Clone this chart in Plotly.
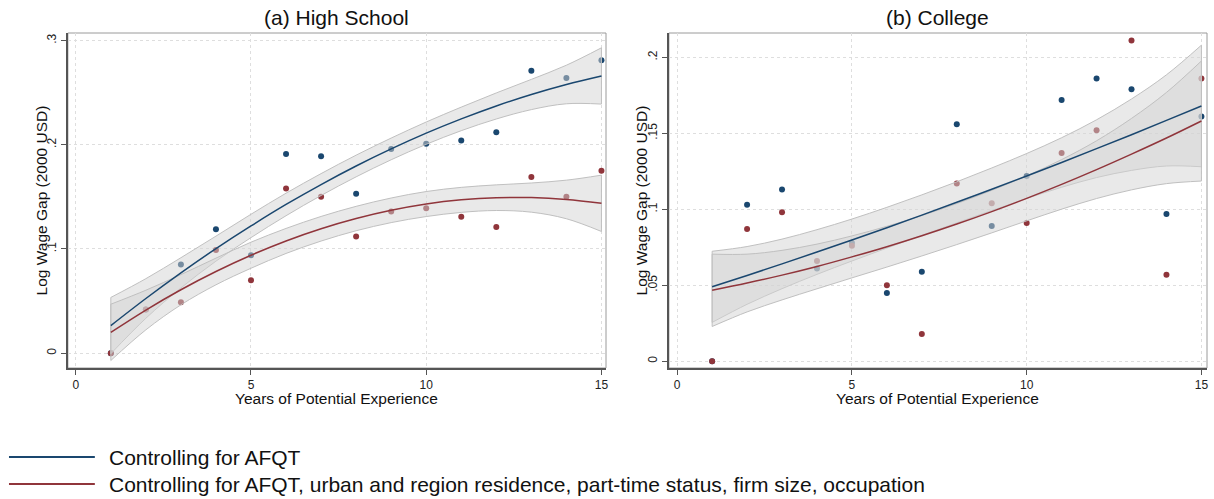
import plotly.graph_objects as go

# Years of potential experience
years = list(range(1, 16))

# (a) High school: log wage gap by experience
hs_afqt = [0.0, 0.042, 0.085, 0.119, 0.094, 0.191, 0.189, 0.153, 0.196, 0.201,
           0.204, 0.212, 0.271, 0.264, 0.281]
hs_full = [0.0, 0.042, 0.049, 0.099, 0.070, 0.158, 0.150, 0.112, 0.136, 0.139,
           0.131, 0.121, 0.169, 0.150, 0.175]

# quadratic fits with 95% confidence bands, high school
hs_afqt_fit = [0.0265, 0.0525, 0.0771, 0.1003, 0.1221, 0.1427, 0.1618, 0.1796,
               0.1960, 0.2111, 0.2248, 0.2372, 0.2482, 0.2578, 0.2660]
hs_afqt_lo = [-0.0005, 0.0335, 0.0626, 0.0883, 0.1109, 0.1319, 0.1513, 0.1692,
              0.1856, 0.2004, 0.2135, 0.2247, 0.2337, 0.2393, 0.2390]
hs_afqt_hi = [0.0535, 0.0715, 0.0916, 0.1123, 0.1333, 0.1535, 0.1723, 0.1900,
              0.2064, 0.2218, 0.2361, 0.2497, 0.2627, 0.2763, 0.2930]
hs_full_fit = [0.0200, 0.0414, 0.0609, 0.0784, 0.0940, 0.1077, 0.1194, 0.1292,
               0.1371, 0.1431, 0.1471, 0.1492, 0.1493, 0.1475, 0.1438]
hs_full_lo = [-0.0070, 0.0224, 0.0464, 0.0656, 0.0815, 0.0957, 0.1076, 0.1175,
              0.1253, 0.1311, 0.1351, 0.1369, 0.1353, 0.1290, 0.1168]
hs_full_hi = [0.0470, 0.0604, 0.0754, 0.0912, 0.1065, 0.1197, 0.1312, 0.1409,
              0.1489, 0.1551, 0.1591, 0.1615, 0.1633, 0.1660, 0.1708]

# (b) College: log wage gap by experience
col_afqt = [0.0, 0.103, 0.113, 0.061, 0.078, 0.045, 0.059, 0.156, 0.089, 0.122,
            0.172, 0.186, 0.179, 0.097, 0.161]
col_full = [0.0, 0.087, 0.098, 0.066, 0.076, 0.050, 0.018, 0.117, 0.104, 0.091,
            0.137, 0.152, 0.211, 0.057, 0.186]

# quadratic fits with 95% confidence bands, college
col_afqt_fit = [0.0490, 0.0565, 0.0641, 0.0719, 0.0798, 0.0879, 0.0962, 0.1046,
                0.1132, 0.1219, 0.1308, 0.1399, 0.1491, 0.1585, 0.1680]
col_afqt_lo = [0.0256, 0.0375, 0.0478, 0.0572, 0.0660, 0.0745, 0.0829, 0.0911,
               0.0992, 0.1071, 0.1145, 0.1209, 0.1256, 0.1285, 0.1280]
col_afqt_hi = [0.0724, 0.0755, 0.0804, 0.0866, 0.0936, 0.1013, 0.1095, 0.1181,
               0.1272, 0.1367, 0.1471, 0.1589, 0.1726, 0.1885, 0.2080]
col_full_fit = [0.0467, 0.0515, 0.0567, 0.0624, 0.0687, 0.0754, 0.0826, 0.0903,
                0.0985, 0.1072, 0.1164, 0.1261, 0.1363, 0.1469, 0.1581]
col_full_lo = [0.0229, 0.0325, 0.0404, 0.0477, 0.0549, 0.0620, 0.0693, 0.0768,
               0.0845, 0.0924, 0.1001, 0.1071, 0.1128, 0.1169, 0.1186]
col_full_hi = [0.0705, 0.0705, 0.0730, 0.0771, 0.0825, 0.0888, 0.0959, 0.1038,
               0.1125, 0.1220, 0.1327, 0.1451, 0.1598, 0.1769, 0.1976]

hs_ticks = [0, 0.1, 0.2, 0.3]
hs_ticklabels = ["0", ".1", ".2", ".3"]
col_ticks = [0, 0.05, 0.1, 0.15, 0.2]
col_ticklabels = ["0", ".05", ".1", ".15", ".2"]
x_ticks = [0, 5, 10, 15]

panel_titles = ["(a) High School", "(b) College"]
x_title = "Years of Potential Experience"
y_title = "Log Wage Gap (2000 USD)"
legend_labels = [
    "Controlling for AFQT",
    "Controlling for AFQT, urban and region residence, part-time status, firm size, occupation",
]

NAVY = "#1a476f"
MAROON = "#90353b"
BAND_FILL = "rgba(212,212,212,0.5)"
BAND_EDGE = "rgba(192,192,192,1)"
FONT = "Liberation Sans, Arial, sans-serif"

fig = go.Figure()

panels = [
    ("x", "y", [(hs_afqt, hs_afqt_fit, hs_afqt_lo, hs_afqt_hi, NAVY),
                (hs_full, hs_full_fit, hs_full_lo, hs_full_hi, MAROON)]),
    ("x2", "y2", [(col_afqt, col_afqt_fit, col_afqt_lo, col_afqt_hi, NAVY),
                  (col_full, col_full_fit, col_full_lo, col_full_hi, MAROON)]),
]

for xa, ya, series in panels:
    # scatter points first so the translucent bands sit on top of them
    for pts, _, _, _, col in series:
        fig.add_trace(go.Scatter(
            x=years, y=pts, mode="markers", xaxis=xa, yaxis=ya,
            marker=dict(color=col, size=6), showlegend=False, hoverinfo="skip"))
    # confidence bands
    for _, _, lo, hi, _ in series:
        fig.add_trace(go.Scatter(
            x=years, y=lo, mode="lines", line=dict(color=BAND_EDGE, width=1, shape="spline"),
            xaxis=xa, yaxis=ya, showlegend=False, hoverinfo="skip"))
        fig.add_trace(go.Scatter(
            x=years, y=hi, mode="lines", line=dict(color=BAND_EDGE, width=1, shape="spline"),
            fill="tonexty", fillcolor=BAND_FILL,
            xaxis=xa, yaxis=ya, showlegend=False, hoverinfo="skip"))
        # closing edges of the band at both ends
        for i in (0, -1):
            fig.add_trace(go.Scatter(
                x=[years[i], years[i]], y=[lo[i], hi[i]], mode="lines",
                line=dict(color=BAND_EDGE, width=1), xaxis=xa, yaxis=ya,
                showlegend=False, hoverinfo="skip"))
    # fitted lines
    for _, fit, _, _, col in series:
        fig.add_trace(go.Scatter(
            x=years, y=fit, mode="lines", xaxis=xa, yaxis=ya,
            line=dict(color=col, width=1.5, shape="spline"),
            showlegend=False, hoverinfo="skip"))

axis_common = dict(
    showgrid=True, gridcolor="#dedede", griddash="dot", gridwidth=1,
    zeroline=False, showline=True, linecolor="#555555", linewidth=1.5,
    ticks="outside", ticklen=5, tickcolor="#555555",
    tickfont=dict(family=FONT, size=12, color="#222222"),
)

XD1 = [68 / 1214, 607 / 1214]
XD2 = [670 / 1214, 1209 / 1214]
YD = [1 - 368 / 499, 1 - 33 / 499]

fig.update_layout(
    width=1214, height=499,
    margin=dict(l=0, r=0, t=0, b=0),
    paper_bgcolor="white", plot_bgcolor="white",
    showlegend=False,
    font=dict(family=FONT, color="#111111"),
    xaxis=dict(domain=XD1, range=[-0.225, 15.13], tickvals=x_ticks,
               anchor="y", **axis_common),
    yaxis=dict(domain=YD, range=[-0.0142, 0.3072], tickvals=hs_ticks,
               ticktext=hs_ticklabels, tickangle=-90, anchor="x", **axis_common),
    xaxis2=dict(domain=XD2, range=[-0.237, 15.16], tickvals=x_ticks,
                anchor="y2", **axis_common),
    yaxis2=dict(domain=YD, range=[-0.0044, 0.216], tickvals=col_ticks,
                ticktext=col_ticklabels, tickangle=-90, anchor="x2", **axis_common),
)

# plot region frames
for xref, yref in [("x domain", "y domain"), ("x2 domain", "y2 domain")]:
    fig.add_shape(type="rect", xref=xref, yref=yref, x0=0, x1=1, y0=0, y1=1,
                  line=dict(color="#9a9a9a", width=1), layer="below")

for title, dom in zip(panel_titles, [XD1, XD2]):
    xc = (dom[0] + dom[1]) / 2
    fig.add_annotation(text=title, x=xc, y=1 - 17 / 499, xref="paper", yref="paper",
                       showarrow=False, font=dict(family=FONT, size=21, color="#111111"),
                       xanchor="center", yanchor="middle")
    fig.add_annotation(text=x_title, x=xc, y=1 - 398 / 499,
                       xref="paper", yref="paper", showarrow=False,
                       font=dict(family=FONT, size=15.5, color="#111111"),
                       xanchor="center", yanchor="middle")

for xp in [42 / 1214, 643 / 1214]:
    fig.add_annotation(text=y_title, x=xp, y=(YD[0] + YD[1]) / 2,
                       xref="paper", yref="paper", showarrow=False, textangle=-90,
                       font=dict(family=FONT, size=15.5, color="#111111"),
                       xanchor="center", yanchor="middle")

# legend beneath the panels
for label, col, ypx in zip(legend_labels, [NAVY, MAROON], [457, 484]):
    yp = 1 - ypx / 499
    fig.add_shape(type="line", xref="paper", yref="paper", x0=9 / 1214, x1=95 / 1214,
                  y0=yp, y1=yp, line=dict(color=col, width=2))
    fig.add_annotation(text=label, x=107 / 1214, y=yp, xref="paper", yref="paper",
                       showarrow=False, xanchor="left", yanchor="middle",
                       font=dict(family=FONT, size=21, color="#111111"))

fig.write_html("out.html")
